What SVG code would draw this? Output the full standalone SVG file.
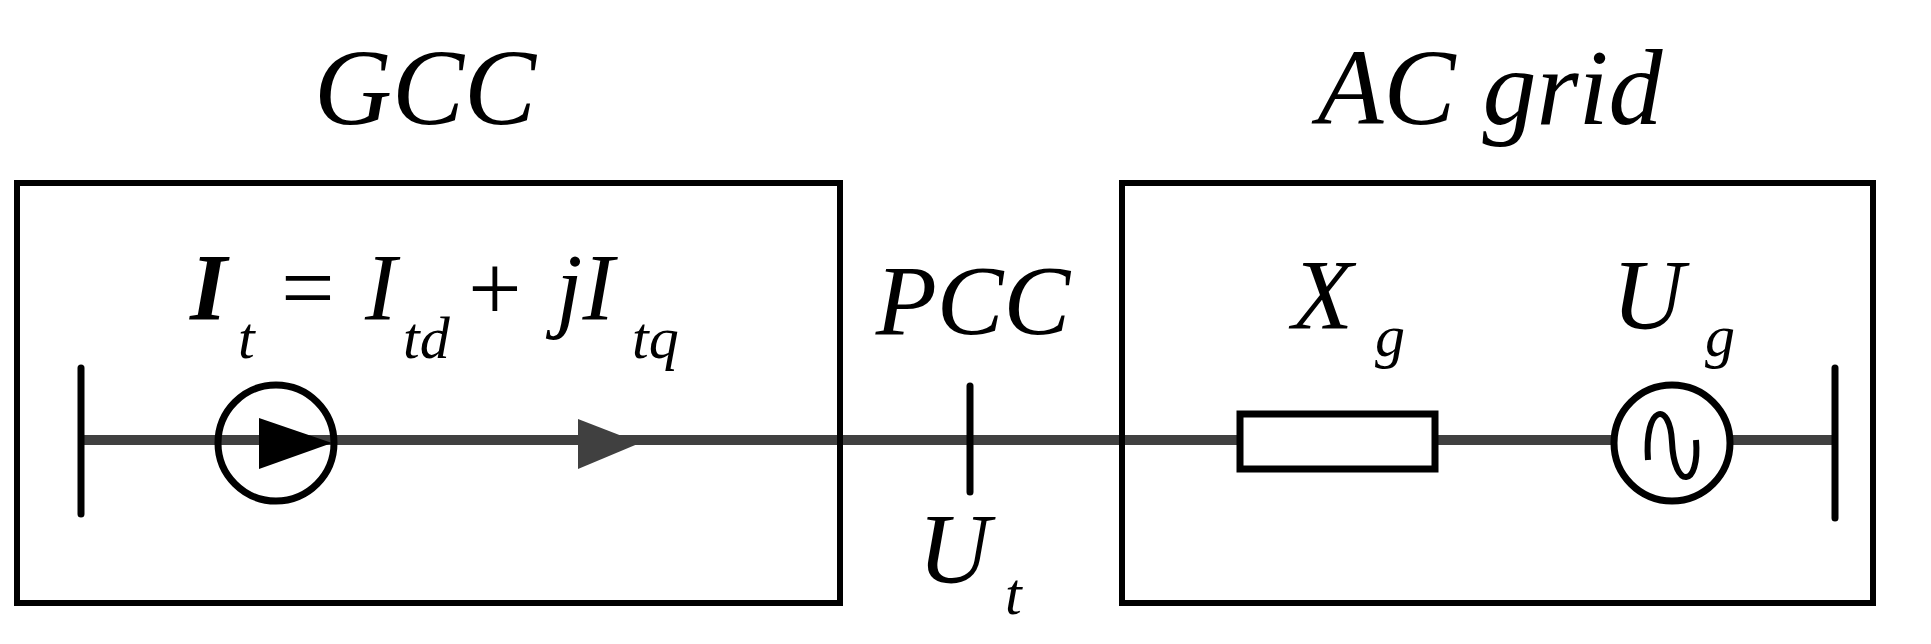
<svg xmlns="http://www.w3.org/2000/svg" width="1931" height="644" viewBox="0 0 1931 644">
<style>
.t{font-family:"Liberation Serif","Times New Roman",serif;font-style:italic;fill:#000}
.b{fill:none;stroke:#000;stroke-width:6}
.w{stroke:#404040;stroke-width:10;fill:none}
.bar{stroke:#000;stroke-width:7;stroke-linecap:round}
</style>
<rect width="1931" height="644" fill="#fff"/>
<g id="connectors">
<line class="w" x1="81" y1="440" x2="1835" y2="440"/>
<polygon points="578,419 640,443 578,469" fill="#404040"/>
</g>
<g id="gcc">
<rect class="b" x="17" y="183" width="823" height="420"/>
<text class="t" x="425" y="124" font-size="108" text-anchor="middle">GCC</text>
</g>
<g id="grid">
<rect class="b" x="1122" y="183" width="751" height="420"/>
<text class="t" x="1490" y="124" font-size="108" text-anchor="middle">AC  grid</text>
</g>
<g id="left-bus"><line class="bar" x1="81" y1="368" x2="81" y2="514"/></g>
<g id="current-source">
<circle cx="276" cy="443" r="58" fill="none" stroke="#000" stroke-width="7"/>
<line x1="259" y1="443" x2="296" y2="443" stroke="#000" stroke-width="10"/>
<polygon points="259,418 332,443 259,469" fill="#000"/>
<text class="t" x="190" y="320" font-size="95" font-weight="bold">I</text>
<text class="t" x="238" y="358" font-size="60">t</text>
<text class="t" x="275" y="320" font-size="95" font-style="normal">=</text>
<text class="t" x="365" y="320" font-size="95">I</text>
<text class="t" x="403" y="358" font-size="60">td</text>
<text class="t" x="462" y="320" font-size="95" font-style="normal">+</text>
<text class="t" x="556" y="320" font-size="95">jI</text>
<text class="t" x="632" y="358" font-size="60">tq</text>
</g>
<g id="pcc">
<line class="bar" x1="970" y1="386" x2="970" y2="492"/>
<text class="t" x="973" y="334" font-size="100" text-anchor="middle">PCC</text>
<text class="t" x="918" y="582" font-size="100">U</text>
<text class="t" x="1005" y="614" font-size="60">t</text>
</g>
<g id="reactance">
<rect x="1240" y="414" width="195" height="55" fill="#fff" stroke="#000" stroke-width="7"/>
<text class="t" x="1292" y="328" font-size="100">X</text>
<text class="t" x="1375" y="356" font-size="60">g</text>
</g>
<g id="voltage-source">
<circle cx="1672" cy="443" r="58" fill="#fff" stroke="#000" stroke-width="7"/>
<path d="M1648,460 C1644,405 1670,400 1672,442 C1674,490 1700,488 1696,440" fill="none" stroke="#000" stroke-width="6"/>
<text class="t" x="1612" y="328" font-size="100">U</text>
<text class="t" x="1705" y="356" font-size="60">g</text>
</g>
<g id="right-bus"><line class="bar" x1="1835" y1="368" x2="1835" y2="518"/></g>
</svg>
